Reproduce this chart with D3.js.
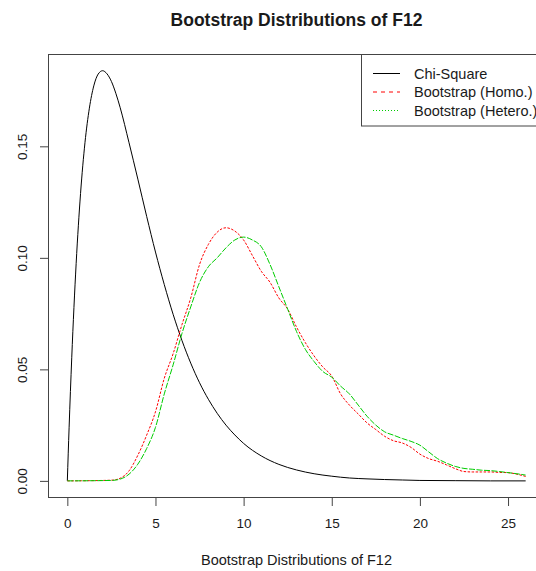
<!DOCTYPE html>
<html>
<head>
<meta charset="utf-8">
<script src="https://cdn.jsdelivr.net/npm/d3@7"></script>
<style>
  body { margin: 0; background: #fff; }
  text { font-family: Arial, "Liberation Sans", sans-serif; fill: #1a1a1a; }
</style>
</head>
<body>
<div id="chart"></div>
<script>
// Chi-square reference density
const chiX = [0, 0.1, 0.25, 0.5, 0.75, 1, 1.25, 1.5, 1.75, 2, 2.25, 2.5, 2.75, 3, 3.5, 4, 4.5, 5, 5.5, 6, 6.5, 7, 7.5, 8, 8.5, 9, 9.5, 10, 11, 12, 13, 14, 15, 16, 17, 18, 19, 20, 22, 24, 26];
const chiY = [0, 0.0238, 0.0552, 0.0974, 0.1289, 0.1516, 0.1671, 0.1771, 0.1824, 0.1839, 0.1825, 0.1791, 0.1738, 0.1673, 0.1516, 0.1353, 0.1186, 0.1026, 0.0880, 0.0747, 0.0630, 0.0528, 0.0440, 0.0366, 0.0303, 0.0250, 0.0206, 0.0168, 0.0112, 0.0074, 0.0049, 0.0032, 0.0021, 0.0013, 0.0009, 0.0006, 0.0004, 0.0002, 0.0001, 0, 0];

// Bootstrap densities (shared x grid)
const bootX = [0, 2.5, 3, 3.5, 4, 4.5, 5, 5.5, 6, 6.5, 7, 7.5, 8, 8.5, 9, 9.5, 10, 10.5, 11, 11.5, 12, 12.5, 13, 13.5, 14, 14.5, 15, 15.5, 16, 16.5, 17, 17.5, 18, 18.5, 19, 19.5, 20, 20.5, 21, 21.5, 22, 22.5, 23, 23.5, 24, 24.5, 25, 25.5, 26];
const homoY = [0, 0.0003, 0.0012, 0.0045, 0.0115, 0.0205, 0.031, 0.046, 0.057, 0.070, 0.082, 0.097, 0.106, 0.1115, 0.1135, 0.112, 0.108, 0.101, 0.094, 0.089, 0.082, 0.077, 0.069, 0.062, 0.056, 0.051, 0.047, 0.039, 0.034, 0.030, 0.026, 0.023, 0.020, 0.018, 0.017, 0.015, 0.012, 0.010, 0.0088, 0.0072, 0.0055, 0.0042, 0.0040, 0.0040, 0.0040, 0.0038, 0.0037, 0.0030, 0.0020];
const heteroY = [0, 0.0002, 0.0008, 0.0030, 0.0075, 0.0145, 0.024, 0.039, 0.052, 0.066, 0.078, 0.089, 0.096, 0.100, 0.1045, 0.108, 0.1093, 0.1080, 0.1050, 0.097, 0.087, 0.077, 0.067, 0.059, 0.0535, 0.049, 0.0465, 0.0425, 0.039, 0.034, 0.029, 0.025, 0.022, 0.0205, 0.019, 0.0177, 0.0160, 0.013, 0.010, 0.008, 0.0065, 0.0056, 0.0052, 0.0048, 0.0046, 0.0042, 0.0037, 0.0032, 0.0026];

const xTicks = [0, 5, 10, 15, 20, 25];
const yTicks = [0, 0.05, 0.10, 0.15];
const legendLabels = ["Chi-Square", "Bootstrap (Homo.)", "Bootstrap (Hetero.)"];

const width = 536, height = 571;
const plot = {left: 49, right: 544, top: 54.3, bottom: 497.3};

const svg = d3.select("#chart").append("svg")
    .attr("width", width)
    .attr("height", height);

const x = d3.scaleLinear().domain([-1.04, 27.04]).range([plot.left, plot.right]);
const y = d3.scaleLinear().domain([-0.00736, 0.19126]).range([plot.bottom, plot.top]);

// plotDash: how the curve looks in the panel, legendDash: the legend key
const series = [
    {xs: chiX, ys: chiY, color: "#000000", plotDash: null, legendDash: null},
    {xs: bootX, ys: homoY, color: "#ff0000", plotDash: "2.5,1.5", legendDash: "4,4"},
    {xs: bootX, ys: heteroY, color: "#00cd00", plotDash: "6,1.5", legendDash: "1,2"}
];

const line = d3.line()
    .x(d => x(d[0]))
    .y(d => y(d[1]))
    .curve(d3.curveMonotoneX);

svg.append("g")
    .selectAll("path")
    .data(series)
    .join("path")
    .attr("fill", "none")
    .attr("stroke", d => d.color)
    .attr("stroke-width", 1)
    .attr("stroke-dasharray", d => d.plotDash)
    .attr("d", d => line(d.xs.map((v, i) => [v, d.ys[i]])));

// plot box
svg.append("rect")
    .attr("x", 48.5)
    .attr("y", 54.5)
    .attr("width", plot.right - 48.5)
    .attr("height", 497.5 - 54.5)
    .attr("fill", "none")
    .attr("stroke", "#444");

// x axis
const xAxis = svg.append("g")
    .attr("transform", "translate(0,497.5)")
    .call(d3.axisBottom(x).tickValues(xTicks).tickSize(8.5).tickPadding(12).tickSizeOuter(0).tickFormat(d3.format("d")));
xAxis.select(".domain")
    .attr("d", `M${x(0)},0H${x(25)}`)
    .attr("stroke", "#444");
xAxis.selectAll(".tick line").attr("stroke", "#444");
xAxis.selectAll(".tick text")
    .attr("font-size", 13.5)
    .attr("font-family", "Arial, 'Liberation Sans', sans-serif")
    .attr("fill", "#1a1a1a");

// y axis
const yAxis = svg.append("g")
    .attr("transform", "translate(48.5,0)")
    .call(d3.axisLeft(y).tickValues(yTicks).tickSize(8.5).tickSizeOuter(0).tickFormat(d3.format(".2f")));
yAxis.select(".domain")
    .attr("d", `M0,${y(0)}V${y(0.15)}`)
    .attr("stroke", "#444");
yAxis.selectAll(".tick line").attr("stroke", "#444");
yAxis.selectAll(".tick text")
    .attr("font-size", 13.5)
    .attr("font-family", "Arial, 'Liberation Sans', sans-serif")
    .attr("fill", "#1a1a1a")
    .attr("x", null)
    .attr("dy", null)
    .attr("text-anchor", "middle")
    .attr("transform", "translate(-21.5,0) rotate(-90)");

// title and axis label
svg.append("text")
    .attr("x", (plot.left + plot.right) / 2)
    .attr("y", 26)
    .attr("text-anchor", "middle")
    .attr("font-size", 17.5)
    .attr("font-weight", "bold")
    .attr("fill", "#000")
    .text("Bootstrap Distributions of F12");

svg.append("text")
    .attr("x", (plot.left + plot.right) / 2)
    .attr("y", 565)
    .attr("text-anchor", "middle")
    .attr("font-size", 14.5)
    .text("Bootstrap Distributions of F12");

// legend
const legend = svg.append("g");
legend.append("rect")
    .attr("x", 361.5)
    .attr("y", 54.5)
    .attr("width", plot.right - 361.5)
    .attr("height", 126 - 54.5)
    .attr("fill", "#fff")
    .attr("stroke", "#444");

const rowY = [73, 91.5, 110];
const items = legend.selectAll("g.item")
    .data(series)
    .join("g")
    .attr("class", "item")
    .attr("transform", (d, i) => `translate(0,${rowY[i]})`);
items.append("line")
    .attr("x1", 373).attr("x2", 400)
    .attr("y1", 0.5).attr("y2", 0.5)
    .attr("stroke", d => d.color)
    .attr("stroke-dasharray", d => d.legendDash);
items.append("text")
    .attr("x", 414)
    .attr("y", 5.5)
    .attr("font-size", 14.5)
    .text((d, i) => legendLabels[i]);
</script>
</body>
</html>
